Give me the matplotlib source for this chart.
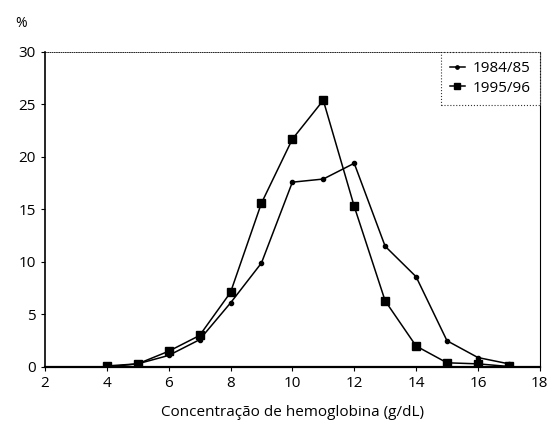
import numpy as np
import matplotlib.pyplot as plt

# hemoglobin concentration (g/dL) vs % of children
hb = [4, 5, 6, 7, 8, 9, 10, 11, 12, 13, 14, 15, 16, 17]
pct_1984 = [0.0, 0.3, 1.1, 2.6, 6.1, 9.9, 17.6, 17.9, 19.4, 11.5, 8.6, 2.5, 0.9, 0.3]
pct_1995 = [0.1, 0.3, 1.5, 3.0, 7.1, 15.6, 21.7, 25.4, 15.3, 6.3, 2.0, 0.4, 0.3, 0.05]
xticks = [2, 4, 6, 8, 10, 12, 14, 16, 18]
yticks = [0, 5, 10, 15, 20, 25, 30]

plt.rcParams['font.family'] = ['Open Sans', 'DejaVu Sans']

fig = plt.figure(figsize=(5.48, 4.26), dpi=100)
ax = fig.add_axes([0.082, 0.1385, 0.903, 0.7395])

ax.plot(hb, pct_1984, color='black', lw=1.1, marker='o', ms=3, label='1984/85')
ax.plot(hb, pct_1995, color='black', lw=1.1, marker='s', ms=6, label='1995/96')

ax.set_xlim(2, 18)
ax.set_ylim(0, 30)
ax.set_xticks(xticks)
ax.set_yticks(yticks)
ax.tick_params(labelsize=11, length=3, width=0.8, direction='out')
ax.set_xlabel('Concentração de hemoglobina (g/dL)', fontsize=11, labelpad=10)

ax.spines['left'].set_linewidth(1.2)
ax.spines['bottom'].set_linewidth(1.6)
ax.spines['top'].set_linewidth(0.6)
ax.spines['top'].set_linestyle(':')
ax.spines['right'].set_linewidth(0.8)

fig.text(0.027, 0.945, '%', fontsize=10, ha='left', va='center')

leg = ax.legend(loc='upper right', fontsize=11, frameon=True, fancybox=False,
                handlelength=1.0, handletextpad=0.5, borderpad=0.6,
                labelspacing=0.3, borderaxespad=0.0, markerscale=0.8)
leg.get_frame().set_edgecolor('black')
leg.get_frame().set_linestyle(':')
leg.get_frame().set_linewidth(0.8)

fig.savefig('out.png', dpi=100)
